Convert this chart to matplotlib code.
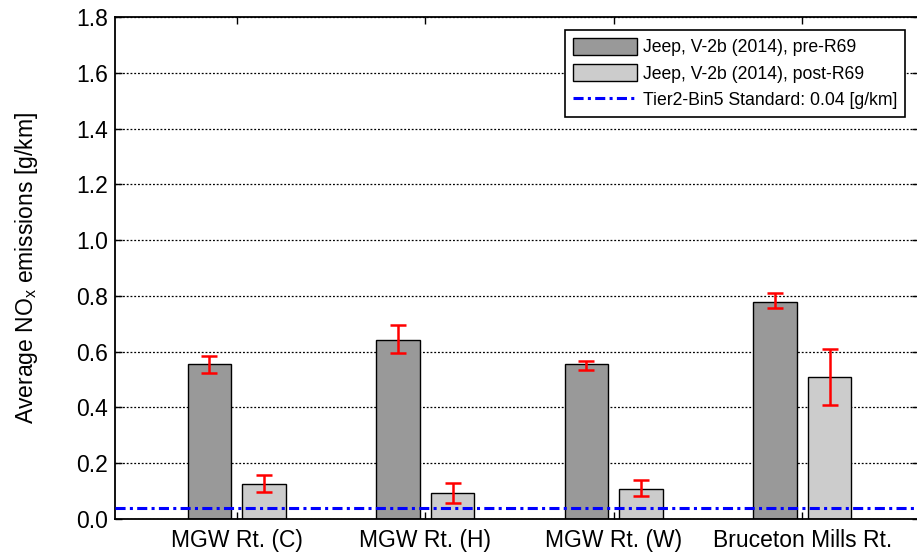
import numpy as np
import matplotlib.pyplot as plt

plt.rcParams['font.family'] = ['Liberation Sans', 'DejaVu Sans']
plt.rcParams['mathtext.default'] = 'regular'

routes = ['MGW Rt. (C)', 'MGW Rt. (H)', 'MGW Rt. (W)', 'Bruceton Mills Rt.']
pre = [0.555, 0.641, 0.555, 0.779]
pre_lo = [0.525, 0.594, 0.534, 0.755]
pre_hi = [0.586, 0.696, 0.568, 0.810]
post = [0.127, 0.092, 0.109, 0.508]
post_lo = [0.097, 0.056, 0.084, 0.410]
post_hi = [0.159, 0.128, 0.140, 0.608]
standard = 0.04

x = np.arange(1, len(routes) + 1)
w = 0.23
off = 0.145

fig = plt.figure(figsize=(9.17, 5.52), dpi=100)
ax = fig.add_axes([0.1254, 0.0598, 0.877, 0.9094])

b1 = ax.bar(x - off, pre, w, color='#999999', edgecolor='black', linewidth=1,
            label='Jeep, V-2b (2014), pre-R69', zorder=2)
b2 = ax.bar(x + off, post, w, color='#cccccc', edgecolor='black', linewidth=1,
            label='Jeep, V-2b (2014), post-R69', zorder=2)

pre_err = [np.array(pre) - np.array(pre_lo), np.array(pre_hi) - np.array(pre)]
post_err = [np.array(post) - np.array(post_lo), np.array(post_hi) - np.array(post)]
ax.errorbar(x - off, pre, yerr=pre_err, fmt='none', ecolor='red', elinewidth=1.8,
            capsize=5.5, capthick=1.8, zorder=4)
ax.errorbar(x + off, post, yerr=post_err, fmt='none', ecolor='red', elinewidth=1.8,
            capsize=5.5, capthick=1.8, zorder=4)

ln = ax.axhline(standard, color='#0000ff', linewidth=2.2, dashes=[3.3, 1.4, 1, 1.4],
                label='Tier2-Bin5 Standard: 0.04 [g/km]', zorder=3)

ax.set_xlim(0.355, 4.62)
ax.set_ylim(0, 1.8)
ax.set_yticks(np.arange(0, 1.81, 0.2))
ax.set_yticklabels([f'{v:.1f}' for v in np.arange(0, 1.81, 0.2)])
ax.set_xticks(x)
ax.set_xticklabels(routes)
ax.tick_params(axis='both', direction='in', labelsize=16.5, length=5, width=1,
               top=True, right=True)
ax.tick_params(axis='x', pad=7)
ax.tick_params(axis='y', pad=5)
ax.yaxis.grid(True, linestyle=(0, (1.5, 1.5)), color='black', linewidth=0.9)
ax.set_axisbelow(True)
for s in ax.spines.values():
    s.set_linewidth(1.3)

ax.set_ylabel('Average NO$_x$ emissions [g/km]', fontsize=16.5, labelpad=26)

leg = ax.legend([b1, b2, ln], [b1.get_label(), b2.get_label(), ln.get_label()],
                loc='upper right', bbox_to_anchor=(0.989, 0.985), fontsize=12.7,
                frameon=True, fancybox=False, edgecolor='black', framealpha=1,
                handlelength=3.65, handleheight=1.1, borderpad=0.45, labelspacing=0.45,
                handletextpad=0.3, borderaxespad=0.3)
leg.get_frame().set_linewidth(1.2)

fig.savefig('out.png', dpi=100)
